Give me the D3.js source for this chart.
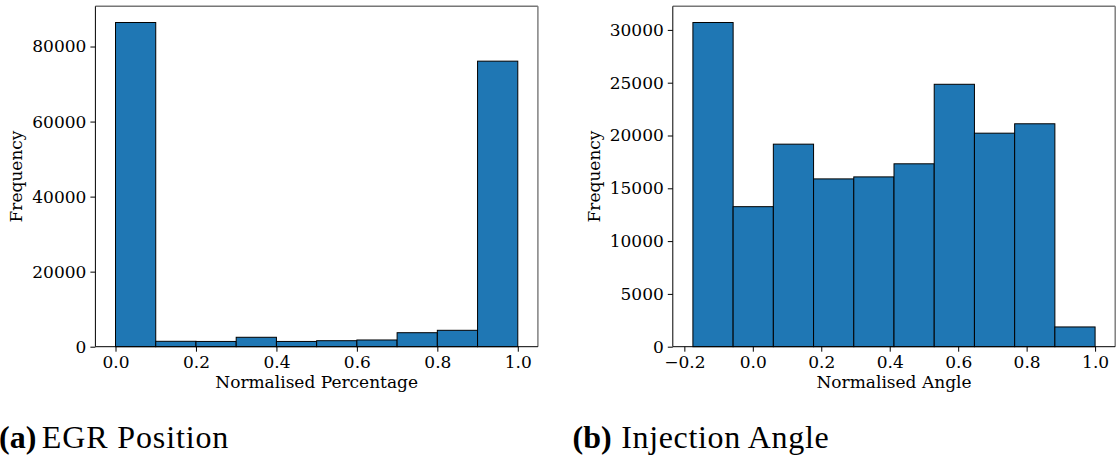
<!DOCTYPE html>
<html>
<head>
<meta charset="utf-8">
<script src="https://cdn.jsdelivr.net/npm/d3@7"></script>
<style>
  body { margin: 0; background: #fff; }
</style>
</head>
<body>
<svg id="chart" width="1118" height="459"></svg>
<script>
// EGR position histogram
const egrEdges = [0.0, 0.1, 0.2, 0.3, 0.4, 0.5, 0.6, 0.7, 0.8, 0.9, 1.0]
const egrCounts = [86400, 1440, 1400, 2510, 1400, 1600, 1790, 3730, 4370, 76100]
const egrXTicks = [0.0, 0.2, 0.4, 0.6, 0.8, 1.0]
const egrYTicks = [0, 20000, 40000, 60000, 80000]

// injection angle histogram
const angleEdges = [-0.175, -0.0575, 0.06, 0.1775, 0.295, 0.4125, 0.53, 0.6475, 0.765, 0.8825, 1.0]
const angleCounts = [30700, 13260, 19180, 15890, 16080, 17320, 24850, 20220, 21110, 1870]
const angleXTicks = [-0.2, 0.0, 0.2, 0.4, 0.6, 0.8, 1.0]
const angleYTicks = [0, 5000, 10000, 15000, 20000, 25000, 30000]

const plotTop = 6.3
const plotBottom = 346.7
const serif = "'DejaVu Serif'"
const fontSize = '17px'

const svg = d3.select('#chart')

function styleTicks(axis) {
  axis.select('.domain').remove()
  axis.selectAll('.tick line').attr('stroke', '#000').attr('stroke-width', 1)
  axis.selectAll('.tick text')
    .style('font-family', serif)
    .style('font-size', fontSize)
    .attr('fill', '#000')
}

function drawHist(opts) {
  const { edges, counts, xTicks, yTicks, left, right, xLabel, yLabelX } = opts
  const g = svg.append('g')

  const ext = d3.extent(edges)
  const pad = (ext[1] - ext[0]) * 0.05
  const x = d3.scaleLinear().domain([ext[0] - pad, ext[1] + pad]).range([left, right])
  const y = d3.scaleLinear().domain([0, d3.max(counts) * 1.05]).range([plotBottom, plotTop])

  const bins = counts.map((c, i) => ({ x0: edges[i], x1: edges[i + 1], count: c }))

  g.append('g')
    .selectAll('rect')
    .data(bins)
    .enter()
    .append('rect')
    .attr('x', d => x(d.x0))
    .attr('y', d => y(d.count))
    .attr('width', d => x(d.x1) - x(d.x0))
    .attr('height', d => y(0) - y(d.count))
    .attr('fill', '#1f77b4')
    .attr('stroke', '#000')
    .attr('stroke-width', 1)

  // x axis
  const xAxis = g.append('g')
    .attr('transform', `translate(0,${plotBottom})`)
    .call(d3.axisBottom(x).tickValues(xTicks).tickFormat(d3.format('.1f')).tickSize(5).tickPadding(4))
  styleTicks(xAxis)

  // y axis
  const yAxis = g.append('g')
    .attr('transform', `translate(${left},0)`)
    .call(d3.axisLeft(y).tickValues(yTicks).tickFormat(d3.format('d')).tickSize(5).tickPadding(4))
  styleTicks(yAxis)

  // spines
  g.append('line').attr('x1', left).attr('x2', right).attr('y1', plotTop).attr('y2', plotTop)
    .attr('stroke', '#777').attr('stroke-width', 1.4)
  g.append('line').attr('x1', right).attr('x2', right).attr('y1', plotTop).attr('y2', plotBottom)
    .attr('stroke', '#777').attr('stroke-width', 1.4)
  g.append('line').attr('x1', left).attr('x2', left).attr('y1', plotTop).attr('y2', plotBottom)
    .attr('stroke', '#000').attr('stroke-width', 1)
  g.append('line').attr('x1', left).attr('x2', right).attr('y1', plotBottom).attr('y2', plotBottom)
    .attr('stroke', '#000').attr('stroke-width', 1)

  g.append('text')
    .attr('x', (left + right) / 2)
    .attr('y', 388)
    .attr('text-anchor', 'middle')
    .style('font-family', serif)
    .style('font-size', fontSize)
    .text(xLabel)

  g.append('text')
    .attr('transform', `translate(${yLabelX},${(plotTop + plotBottom) / 2}) rotate(-90)`)
    .attr('text-anchor', 'middle')
    .style('font-family', serif)
    .style('font-size', fontSize)
    .text('Frequency')
}

drawHist({
  edges: egrEdges, counts: egrCounts, xTicks: egrXTicks, yTicks: egrYTicks,
  left: 95.4, right: 537.9, xLabel: 'Normalised Percentage', yLabelX: 22
})

drawHist({
  edges: angleEdges, counts: angleCounts, xTicks: angleXTicks, yTicks: angleYTicks,
  left: 672.8, right: 1115.2, xLabel: 'Normalised Angle', yLabelX: 599.5
})

// sub-figure captions
function caption(x0, x1, tag, title, titleWidth) {
  const t = svg.append('text')
    .attr('y', 448)
    .style('font-family', "'Liberation Serif'")
    .style('font-size', '32px')
  t.append('tspan').attr('x', x0).style('font-weight', 'bold').text(tag)
  t.append('tspan').attr('x', x1)
    .attr('textLength', titleWidth)
    .attr('lengthAdjust', 'spacing')
    .text(title)
}
caption(-1, 41.8, '(a)', 'EGR Position', 186.5)
caption(572.5, 621.2, '(b)', 'Injection Angle', 207.5)
</script>
</body>
</html>
